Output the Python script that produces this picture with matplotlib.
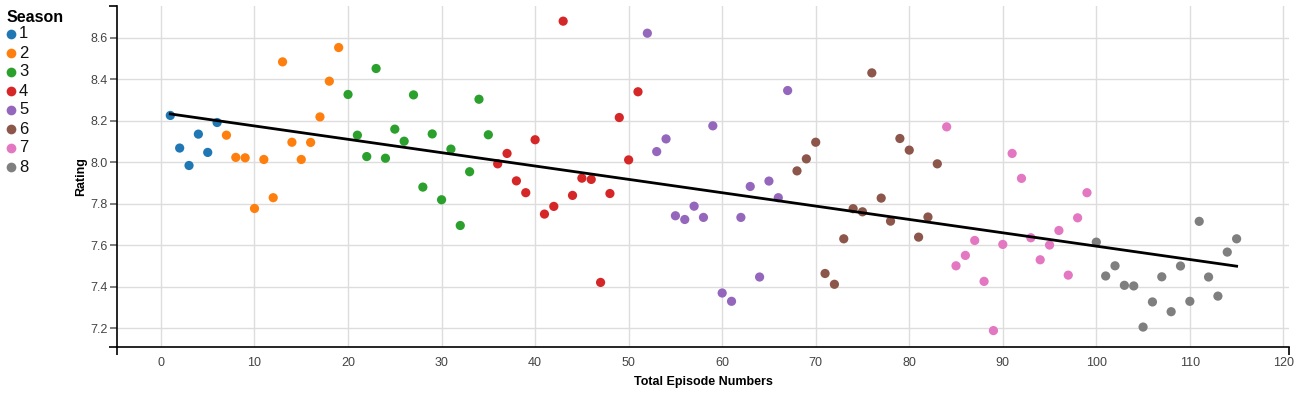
import numpy as np
import matplotlib
matplotlib.use("Agg")
import matplotlib.pyplot as plt
from matplotlib.lines import Line2D

plt.rcParams['font.family'] = ['Liberation Sans', 'DejaVu Sans']

# ratings per season, episodes numbered consecutively from 1
season1 = [8.225, 8.068, 7.984, 8.135, 8.047, 8.191]
season2 = [8.130, 8.023, 8.021, 7.777, 8.013, 7.829, 8.483, 8.096, 8.013, 8.095, 8.218, 8.390, 8.552]
season3 = [8.326, 8.130, 8.027, 8.451, 8.019, 8.159, 8.101, 8.324, 7.880, 8.136, 7.819, 8.063, 7.695, 7.954, 8.303, 8.132]
season4 = [7.992, 8.042, 7.910, 7.853, 8.108, 7.750, 7.787, 8.679, 7.840, 7.923, 7.917, 7.421, 7.849, 8.215, 8.011, 8.339]
season5 = [8.621, 8.051, 8.112, 7.742, 7.724, 7.788, 7.734, 8.175, 7.370, 7.330, 7.734, 7.883, 7.447, 7.909, 7.829, 8.345]
season6 = [7.958, 8.016, 8.096, 7.464, 7.412, 7.631, 7.776, 7.761, 8.430, 7.827, 7.716, 8.114, 8.058, 7.639, 7.736, 7.992]
season7 = [8.170, 7.501, 7.551, 7.623, 7.426, 7.189, 7.604, 8.042, 7.922, 7.636, 7.530, 7.601, 7.671, 7.456, 7.732, 7.853]
season8 = [7.615, 7.452, 7.501, 7.407, 7.404, 7.206, 7.327, 7.448, 7.280, 7.500, 7.330, 7.715, 7.447, 7.355, 7.567, 7.631]

seasons = [season1, season2, season3, season4, season5, season6, season7, season8]
seasonLabels = ['1', '2', '3', '4', '5', '6', '7', '8']
colors = ['#1f77b4', '#ff7f0e', '#2ca02c', '#d62728', '#9467bd', '#8c564b', '#e377c2', '#7f7f7f']

fig = plt.figure(figsize=(12.96, 3.93), dpi=100)
ax = fig.add_axes([117 / 1296, 1 - 347 / 393, (1289 - 117) / 1296, (347 - 6) / 393])

allEpisodes = []
allRatings = []
start = 1
for ratings, col in zip(seasons, colors):
    eps = np.arange(start, start + len(ratings))
    ax.scatter(eps, ratings, s=44, color=col, edgecolors='none', zorder=3)
    allEpisodes.extend(eps)
    allRatings.extend(ratings)
    start += len(ratings)

# linear trend line over all episodes
slope, intercept = np.polyfit(allEpisodes, allRatings, 1)
xs = np.array([allEpisodes[0], allEpisodes[-1]])
ax.plot(xs, slope * xs + intercept, color='black', lw=2, zorder=4)

ax.set_xlim(-4.7, 120.6)
ax.set_ylim(7.11, 8.752)
ax.set_xticks(np.arange(0, 121, 10))
ax.set_yticks([7.2, 7.4, 7.6, 7.8, 8.0, 8.2, 8.4, 8.6])
ax.set_yticklabels(['7.2', '7.4', '7.6', '7.8', '8.0', '8.2', '8.4', '8.6'])
ax.grid(True, color='#dddddd', lw=1, zorder=0)
ax.set_axisbelow(True)

for side in ['top', 'right']:
    ax.spines[side].set_visible(False)
for side in ['left', 'bottom']:
    ax.spines[side].set_color('black')
    ax.spines[side].set_linewidth(1.2)

ax.tick_params(axis='x', length=0, pad=7, labelsize=9, labelcolor='#444444')
ax.tick_params(axis='y', length=5, color='#666666', width=1.2, pad=2, labelsize=9, labelcolor='#444444')
# d3 style outer ticks at the domain ends
ax.set_xticks([-4.7, 120.6], minor=True)
ax.set_yticks([7.11, 8.752], minor=True)
ax.tick_params(which='minor', length=6, color='black', width=1.2)

ax.set_xlabel('Total Episode Numbers', fontsize=9, fontweight='bold')
ax.xaxis.set_label_coords(0.5, -0.085)
ax.set_ylabel('Rating', fontsize=9, fontweight='bold')
ax.yaxis.set_label_coords(-0.0256, 0.5)

# legend drawn in figure pixels, top left
fig.text(7 / 1296, 1 - 18 / 393, 'Season', fontsize=11.5, fontweight='bold', va='center', ha='left')
for i, (lab, col) in enumerate(zip(seasonLabels, colors)):
    yy = 1 - (34 + i * 19) / 393
    fig.add_artist(Line2D([10.5 / 1296], [yy], marker='o', markersize=7, color=col,
                          markeredgewidth=0, linestyle='none', transform=fig.transFigure))
    fig.text(19 / 1296, yy, lab, fontsize=12, va='center', ha='left', color='#111111')

fig.savefig('out.png', dpi=100)
